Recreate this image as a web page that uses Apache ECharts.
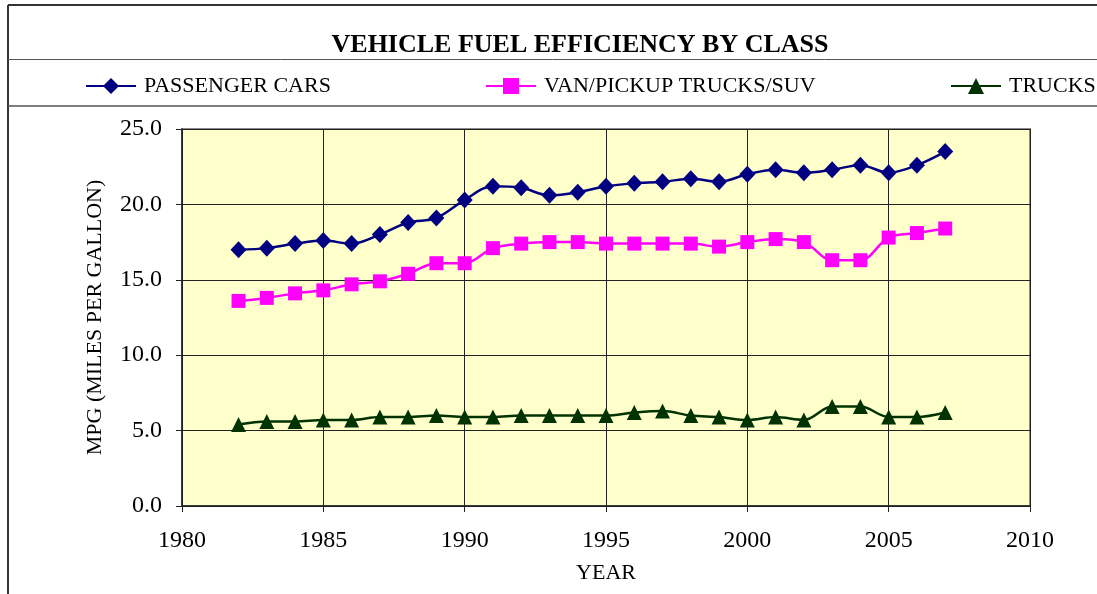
<!DOCTYPE html>
<html>
<head>
<meta charset="utf-8">
<script src="https://cdn.jsdelivr.net/npm/echarts@6/dist/echarts.min.js"></script>
<style>
  html, body { margin: 0; padding: 0; background: #fff; }
  #chart { width: 1097px; height: 594px; }
</style>
</head>
<body>
<div id="chart"></div>
<script>
// data
const years = [1982, 1983, 1984, 1985, 1986, 1987, 1988, 1989, 1990, 1991, 1992, 1993, 1994,
  1995, 1996, 1997, 1998, 1999, 2000, 2001, 2002, 2003, 2004, 2005, 2006, 2007];
const passengerCars = [17.0, 17.1, 17.4, 17.6, 17.4, 18.0, 18.8, 19.1, 20.3, 21.2, 21.1, 20.6, 20.8,
  21.2, 21.4, 21.5, 21.7, 21.5, 22.0, 22.3, 22.1, 22.3, 22.6, 22.1, 22.6, 23.5];
const vanPickupSuv = [13.6, 13.8, 14.1, 14.3, 14.7, 14.9, 15.4, 16.1, 16.1, 17.1, 17.4, 17.5, 17.5,
  17.4, 17.4, 17.4, 17.4, 17.2, 17.5, 17.7, 17.5, 16.3, 16.3, 17.8, 18.1, 18.4];
const trucks = [5.4, 5.6, 5.6, 5.7, 5.7, 5.9, 5.9, 6.0, 5.9, 5.9, 6.0, 6.0, 6.0,
  6.0, 6.2, 6.3, 6.0, 5.9, 5.7, 5.9, 5.7, 6.6, 6.6, 5.9, 5.9, 6.2];

const font = 'Liberation Serif';

function pairs(vals) {
  return years.map((y, i) => [y, vals[i]]);
}

function legendAt(left, name) {
  return {
    left: left, top: 70,
    data: [name],
    itemWidth: 50, itemHeight: 20, itemGap: 0,
    textStyle: { fontFamily: font, fontSize: 22, color: '#000', padding: [0, 0, 0, 3] }
  };
}

const chart = echarts.init(document.getElementById('chart'), null, { renderer: 'canvas' });

chart.setOption({
  animation: false,
  backgroundColor: '#fff',
  title: {
    text: 'VEHICLE FUEL EFFICIENCY BY CLASS',
    left: 575, textAlign: 'center', top: 27,
    textStyle: { fontFamily: font, fontSize: 26, fontWeight: 'bold', color: '#000' }
  },
  legend: [
    legendAt(80, 'PASSENGER CARS'),
    legendAt(480, 'VAN/PICKUP TRUCKS/SUV'),
    legendAt(945, 'TRUCKS')
  ],
  graphic: [
    { type: 'line', shape: { x1: 8, y1: 5, x2: 1097, y2: 5 }, style: { stroke: '#333', lineWidth: 2 } },
    { type: 'line', shape: { x1: 8, y1: 5, x2: 8, y2: 594 }, style: { stroke: '#333', lineWidth: 2 } },
    { type: 'line', shape: { x1: 8, y1: 59.5, x2: 1097, y2: 59.5 }, style: { stroke: '#555', lineWidth: 1 } },
    { type: 'line', shape: { x1: 8, y1: 106, x2: 1097, y2: 106 }, style: { stroke: '#555', lineWidth: 1.5 } }
  ],
  grid: {
    left: 182, right: 67, top: 129, bottom: 88,
    show: true, backgroundColor: '#FFFFCC',
    borderColor: '#8a8a8a', borderWidth: 2
  },
  xAxis: {
    type: 'value', min: 1980, max: 2010, interval: 5,
    name: 'YEAR', nameLocation: 'middle', nameGap: 56,
    nameTextStyle: { fontFamily: font, fontSize: 22, color: '#000' },
    axisLine: { show: true, lineStyle: { color: '#222', width: 1.5 } },
    axisTick: { show: true, length: 6, lineStyle: { color: '#222' } },
    axisLabel: { fontFamily: font, fontSize: 24, color: '#000', margin: 23,
      formatter: v => String(v) },
    splitLine: { show: true, lineStyle: { color: '#222', width: 1 } }
  },
  yAxis: {
    type: 'value', min: 0, max: 25, interval: 5,
    name: 'MPG (MILES PER GALLON)', nameLocation: 'middle', nameGap: 76,
    nameTextStyle: { fontFamily: font, fontSize: 22, color: '#000' },
    axisLine: { show: true, lineStyle: { color: '#222', width: 1.5 } },
    axisTick: { show: true, length: 6, lineStyle: { color: '#222' } },
    axisLabel: { fontFamily: font, fontSize: 24, color: '#000', margin: 20,
      formatter: v => v.toFixed(1) },
    splitLine: { show: true, lineStyle: { color: '#222', width: 1 } }
  },
  series: [
    {
      name: 'PASSENGER CARS', type: 'line', smooth: 0.35,
      data: pairs(passengerCars),
      symbol: 'diamond', symbolSize: [16, 17],
      itemStyle: { color: '#000080' },
      lineStyle: { color: '#000080', width: 2.5 }
    },
    {
      name: 'VAN/PICKUP TRUCKS/SUV', type: 'line', smooth: 0.35,
      data: pairs(vanPickupSuv),
      symbol: 'rect', symbolSize: 14,
      itemStyle: { color: '#FF00FF' },
      lineStyle: { color: '#FF00FF', width: 2.5 }
    },
    {
      name: 'TRUCKS', type: 'line', smooth: 0.35,
      data: pairs(trucks),
      symbol: 'triangle', symbolSize: [15, 15],
      itemStyle: { color: '#003300' },
      lineStyle: { color: '#003300', width: 2.5 }
    }
  ]
});
</script>
</body>
</html>
